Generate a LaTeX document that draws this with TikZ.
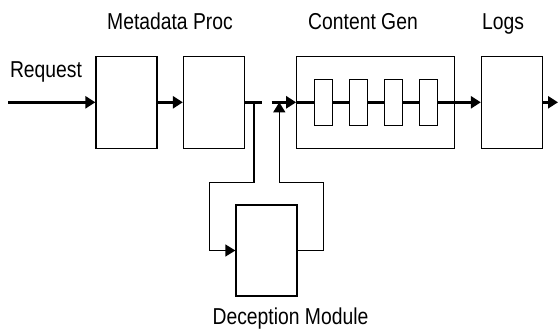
\documentclass[tikz,border=0pt]{standalone}
\usepackage{fontspec}
\setmainfont{Liberation Sans}[FakeStretch=0.84]
\usetikzlibrary{arrows.meta}

\begin{document}
\begin{tikzpicture}[x=1pt, y=-1pt,
        >={Triangle[length=10pt,width=12pt]},
        box/.style={draw, line width=1.3pt, inner sep=0pt, minimum width=61pt, minimum height=92pt},
        cell/.style={draw, line width=1.3pt, inner sep=0pt, fill=white, minimum width=18pt, minimum height=46pt},
        flow/.style={line width=2.7pt, ->},
        back/.style={line width=1.3pt},
        lbl/.style={anchor=base, inner sep=0pt, font=\fontsize{23}{24}\selectfont}]
    \useasboundingbox (0,0) rectangle (558,330);

    \node[box] (meta1) at (126.5,102.3) {};
    \node[box] (meta2) at (214,102.3) {};
    \node[box, minimum width=158pt] (content) at (375.8,102.3) {};
    \node[box] (logs) at (512,102.3) {};
    \node[box, minimum height=91pt] (decept) at (266.5,250.5) {};

    \node[lbl] (lreq) at (46,77) {Request};
    \node[lbl] (lmeta) at (170,29) {Metadata Proc};
    \node[lbl] (lcont) at (363,29) {Content Gen};
    \node[lbl] (llogs) at (503,29) {Logs};
    \node[lbl] (ldec) at (290.5,324.3) {Deception Module};

    \coordinate (in) at (8,102.3);
    \coordinate (out) at (558,102.3);
    \coordinate (splitA) at (261.7,102.3);
    \coordinate (splitB) at (271.7,102.3);
    \coordinate (tapA) at (254,102.3);
    \coordinate (tapB) at (279.3,102.3);
    \coordinate (loopL) at (209.3,182.3);
    \coordinate (loopR) at (323.3,182.3);

    \draw[flow] (in) -- (meta1);
    \draw[flow] (meta1) -- (meta2);
    \draw[line width=2.7pt] (meta2) -- (splitA);
    \draw[flow] (splitB) -- (content);

    % stages inside the generator
    \draw[line width=2.7pt] (content.west) -- (content.east);
    \foreach \i/\x in {1/323.5, 2/358.5, 3/393.3, 4/428.3}
        \node[cell] (c\i) at (\x,102.3) {};
    \draw[flow] (c4) -- (logs);
    \draw[flow] (logs) -- (out);

    % side loop through the deception module
    \draw[back, ->] (tapA) |- (loopL) |- (decept.west);
    \draw[back, ->] (decept.east) -| (loopR) -| (tapB);
\end{tikzpicture}
\end{document}
